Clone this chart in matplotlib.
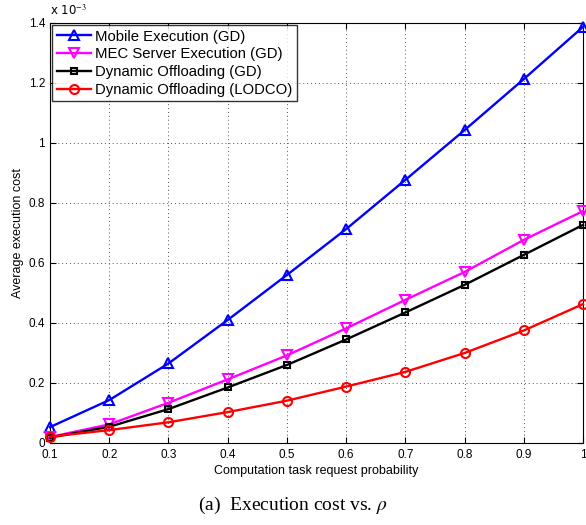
import matplotlib
matplotlib.use("Agg")
import matplotlib.pyplot as plt
from matplotlib.ticker import FuncFormatter

# данные (единицы 1e-3)
rho = [0.1, 0.2, 0.3, 0.4, 0.5, 0.6, 0.7, 0.8, 0.9, 1.0]
mobile_gd = [0.053, 0.143, 0.265, 0.41, 0.56, 0.713, 0.877, 1.043, 1.213, 1.387]
mec_gd = [0.02, 0.062, 0.134, 0.212, 0.292, 0.382, 0.477, 0.57, 0.677, 0.773]
dyn_gd = [0.018, 0.054, 0.113, 0.185, 0.26, 0.345, 0.435, 0.527, 0.627, 0.727]
dyn_lodco = [0.021, 0.043, 0.069, 0.103, 0.141, 0.188, 0.237, 0.3, 0.375, 0.463]

labels = ['Mobile Execution (GD)', 'MEC Server Execution (GD)',
          'Dynamic Offloading (GD)', 'Dynamic Offloading (LODCO)']
scale = 1e-3

plt.rcParams['font.family'] = ['Liberation Sans', 'DejaVu Sans']
plt.rcParams['mathtext.fontset'] = 'stix'

fig = plt.figure(figsize=(5.86, 5.25), dpi=100)
ax = fig.add_axes([0.0853, 0.1562, 0.9096, 0.80])

series = [(mobile_gd, 'blue', '^'), (mec_gd, 'magenta', 'v'),
          (dyn_gd, 'black', 's'), (dyn_lodco, 'red', 'o')]
for (vals, col, mk), lab in zip(series, labels):
    ax.plot(rho, [v * scale for v in vals], color=col, marker=mk,
            markersize=6.5 if mk != 's' else 5, markerfacecolor='none',
            markeredgewidth=1.5, linewidth=1.7, label=lab, clip_on=False, zorder=3)

ax.set_xlim(0.1, 1.0)
ax.set_ylim(0, 1.4e-3)
ax.set_xticks([0.1, 0.2, 0.3, 0.4, 0.5, 0.6, 0.7, 0.8, 0.9, 1.0])
ax.set_yticks([i * 0.2e-3 for i in range(8)])
ax.xaxis.set_major_formatter(FuncFormatter(lambda v, p: '%g' % round(v, 2)))
ax.yaxis.set_major_formatter(FuncFormatter(lambda v, p: '%g' % round(v / scale, 2)))
ax.tick_params(direction='in', top=True, right=True, labelsize=8.5, length=4)
ax.tick_params(axis='x', pad=4)
ax.grid(True, linestyle=(0, (1, 3)), color='#555555', linewidth=0.7)
for sp in ax.spines.values():
    sp.set_linewidth(0.8)

ax.text(0.0, 1.012, 'x 10$^{-3}$', transform=ax.transAxes, fontsize=8.5,
        ha='left', va='bottom', family=['DejaVu Sans'])

ax.set_xlabel('Computation task request probability', fontsize=9, labelpad=3)
ax.set_ylabel('Average execution cost', fontsize=9, labelpad=3)

leg = ax.legend(loc='upper left', fontsize=10.7, frameon=True, fancybox=False,
                borderaxespad=0.15, handlelength=2.3, labelspacing=0.25,
                borderpad=0.3, handletextpad=0.3)
leg.get_frame().set_edgecolor('black')
leg.get_frame().set_linewidth(1.0)

fig.text(0.5, 0.038, r'(a)  Execution cost vs. $\rho$', ha='center', va='center',
         fontsize=14, family=['Liberation Serif', 'DejaVu Serif'])

fig.savefig('out.png', dpi=100)
